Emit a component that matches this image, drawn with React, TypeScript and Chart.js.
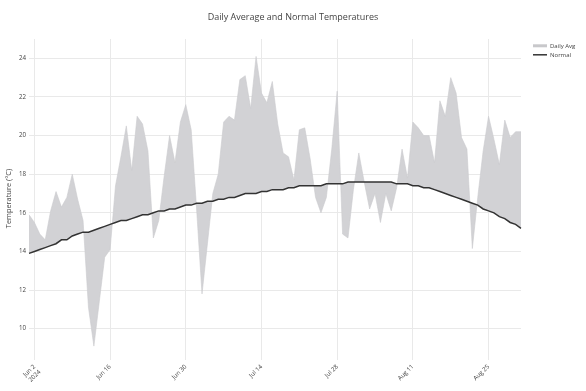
import React, { useEffect, useRef } from 'react';
import { Chart, registerables } from 'chart.js';

Chart.register(...registerables);

const chartTitle = 'Daily Average and Normal Temperatures';
const yAxisTitle = 'Temperature (°C)';
const seriesNames = ['Daily Avg', 'Normal'];
const startDate = '2024-06-01';
const dayCount = 92;

const dailyAvg = [
  15.9, 15.5, 14.9, 14.6, 16.1, 17.1, 16.3, 16.8, 18.0, 16.7,
  15.6, 11.1, 9.1, 11.4, 13.7, 14.1, 17.4, 18.9, 20.5, 18.2,
  21.0, 20.6, 19.2, 14.7, 15.6, 17.9, 20.0, 18.6, 20.7, 21.6,
  20.3, 16.2, 11.8, 14.4, 17.0, 18.0, 20.7, 21.0, 20.8, 22.9,
  23.1, 21.4, 24.1, 22.2, 21.7, 22.8, 20.6, 19.1, 18.9, 17.7,
  20.3, 20.4, 18.8, 16.8, 16.0, 16.8, 19.3, 22.3, 14.9, 14.7,
  17.2, 19.1, 17.6, 16.2, 17.0, 15.5, 17.0, 16.1, 17.3, 19.3,
  17.8, 20.7, 20.4, 20.0, 20.0, 18.6, 21.8, 21.0, 23.0, 22.2,
  19.9, 19.3, 14.15, 16.8, 19.2, 21.0, 19.8, 18.5, 20.8, 19.9,
  20.2, 20.2,
];

const normalTemp = [
  13.9, 14.0, 14.1, 14.2, 14.3, 14.4, 14.6, 14.6, 14.8, 14.9,
  15.0, 15.0, 15.1, 15.2, 15.3, 15.4, 15.5, 15.6, 15.6, 15.7,
  15.8, 15.9, 15.9, 16.0, 16.1, 16.1, 16.2, 16.2, 16.3, 16.4,
  16.4, 16.5, 16.5, 16.6, 16.6, 16.7, 16.7, 16.8, 16.8, 16.9,
  17.0, 17.0, 17.0, 17.1, 17.1, 17.2, 17.2, 17.2, 17.3, 17.3,
  17.4, 17.4, 17.4, 17.4, 17.4, 17.5, 17.5, 17.5, 17.5, 17.6,
  17.6, 17.6, 17.6, 17.6, 17.6, 17.6, 17.6, 17.6, 17.5, 17.5,
  17.5, 17.4, 17.4, 17.3, 17.3, 17.2, 17.1, 17.0, 16.9, 16.8,
  16.7, 16.6, 16.5, 16.4, 16.2, 16.1, 16.0, 15.8, 15.7, 15.5,
  15.4, 15.2,
];

const yTickValues = [10, 12, 14, 16, 18, 20, 22, 24];
const xTickDates = ['2024-06-02', '2024-06-16', '2024-06-30', '2024-07-14', '2024-07-28', '2024-08-11', '2024-08-25'];
const xTickLabels: (string | string[])[] = [['Jun 2', '2024'], 'Jun 16', 'Jun 30', 'Jul 14', 'Jul 28', 'Aug 11', 'Aug 25'];

const FONT = "'Open Sans', 'DejaVu Sans', sans-serif";
const TEXT_COLOR = '#444';
const FILL_COLOR = 'rgb(210, 210, 213)';
const LINE_COLOR = '#333';

function buildDates(start: string, n: number): string[] {
  const out: string[] = [];
  const d = new Date(start + 'T00:00:00Z');
  for (let i = 0; i < n; i++) {
    out.push(d.toISOString().slice(0, 10));
    d.setUTCDate(d.getUTCDate() + 1);
  }
  return out;
}

const overlayPlugin = {
  id: 'overlayText',
  afterDraw(chart: any) {
    const ctx = chart.ctx as CanvasRenderingContext2D;
    ctx.save();
    // title
    ctx.fillStyle = TEXT_COLOR;
    ctx.font = `9px ${FONT}`;
    ctx.textAlign = 'center';
    ctx.textBaseline = 'middle';
    ctx.fillText(chartTitle, 293, 17.5);

    // y-axis title
    ctx.save();
    ctx.translate(8.5, 198.5);
    ctx.rotate(-Math.PI / 2);
    ctx.font = `7.4px ${FONT}`;
    ctx.fillText(yAxisTitle, 0, 0);
    ctx.restore();

    // legend
    ctx.textAlign = 'left';
    ctx.font = `6px ${FONT}`;
    ctx.lineCap = 'butt';
    ctx.strokeStyle = 'rgb(200, 200, 203)';
    ctx.lineWidth = 3;
    ctx.beginPath();
    ctx.moveTo(533, 45.8);
    ctx.lineTo(547, 45.8);
    ctx.stroke();
    ctx.fillStyle = TEXT_COLOR;
    ctx.fillText(seriesNames[0], 550, 46);

    ctx.strokeStyle = LINE_COLOR;
    ctx.lineWidth = 1.5;
    ctx.beginPath();
    ctx.moveTo(533, 54.8);
    ctx.lineTo(547, 54.8);
    ctx.stroke();
    ctx.fillText(seriesNames[1], 550, 55);
    ctx.restore();
  },
};

export default function App() {
  const canvasRef = useRef<HTMLCanvasElement | null>(null);

  useEffect(() => {
    const canvas = canvasRef.current;
    if (!canvas) return;
    const labels = buildDates(startDate, dayCount);
    const tickIdx = xTickDates.map((d) => labels.indexOf(d));

    const chart = new Chart(canvas, {
      type: 'line',
      data: {
        labels,
        datasets: [
          {
            label: seriesNames[1],
            data: normalTemp,
            borderColor: LINE_COLOR,
            borderWidth: 1.5,
            pointRadius: 0,
            tension: 0,
            fill: false,
          },
          {
            label: seriesNames[0],
            data: dailyAvg,
            borderColor: 'rgb(203, 203, 206)',
            borderWidth: 0.6,
            backgroundColor: FILL_COLOR,
            pointRadius: 0,
            tension: 0,
            fill: '-1',
          },
        ],
      },
      options: {
        responsive: false,
        maintainAspectRatio: false,
        animation: false,
        devicePixelRatio: 1,
        layout: { padding: { left: 0, top: 39, right: 65, bottom: 0 } },
        plugins: {
          legend: { display: false },
          title: { display: false },
          tooltip: { enabled: false },
        },
        scales: {
          x: {
            type: 'category',
            offset: false,
            border: { display: false },
            grid: { color: '#e9e9e9', lineWidth: 1, drawTicks: false },
            ticks: {
              autoSkip: false,
              maxRotation: 45,
              minRotation: 45,
              padding: 3,
              color: TEXT_COLOR,
              font: { family: FONT, size: 6.2 },
              callback: (value: any) => {
                const k = tickIdx.indexOf(Number(value));
                return k >= 0 ? xTickLabels[k] : '';
              },
            },
            afterBuildTicks: (scale: any) => {
              scale.ticks = tickIdx.map((v) => ({ value: v }));
            },
            afterFit: (scale: any) => {
              scale.height = 31;
            },
          },
          y: {
            type: 'linear',
            min: 8.38,
            max: 25.0,
            border: { display: false },
            grid: { color: '#e9e9e9', lineWidth: 1, drawTicks: false },
            ticks: {
              padding: 3,
              color: TEXT_COLOR,
              font: { family: FONT, size: 6.2 },
              callback: (value: any) => String(value),
            },
            afterBuildTicks: (scale: any) => {
              scale.ticks = yTickValues.map((v) => ({ value: v }));
            },
            afterFit: (scale: any) => {
              scale.width = 29;
            },
          },
        },
      },
      plugins: [overlayPlugin],
    });
    return () => chart.destroy();
  }, []);

  return (
    <div style={{ position: 'absolute', left: 0, top: 0, width: 586, height: 391, background: '#fff' }}>
      <canvas ref={canvasRef} width={586} height={391} style={{ display: 'block', width: 586, height: 391 }} />
    </div>
  );
}
